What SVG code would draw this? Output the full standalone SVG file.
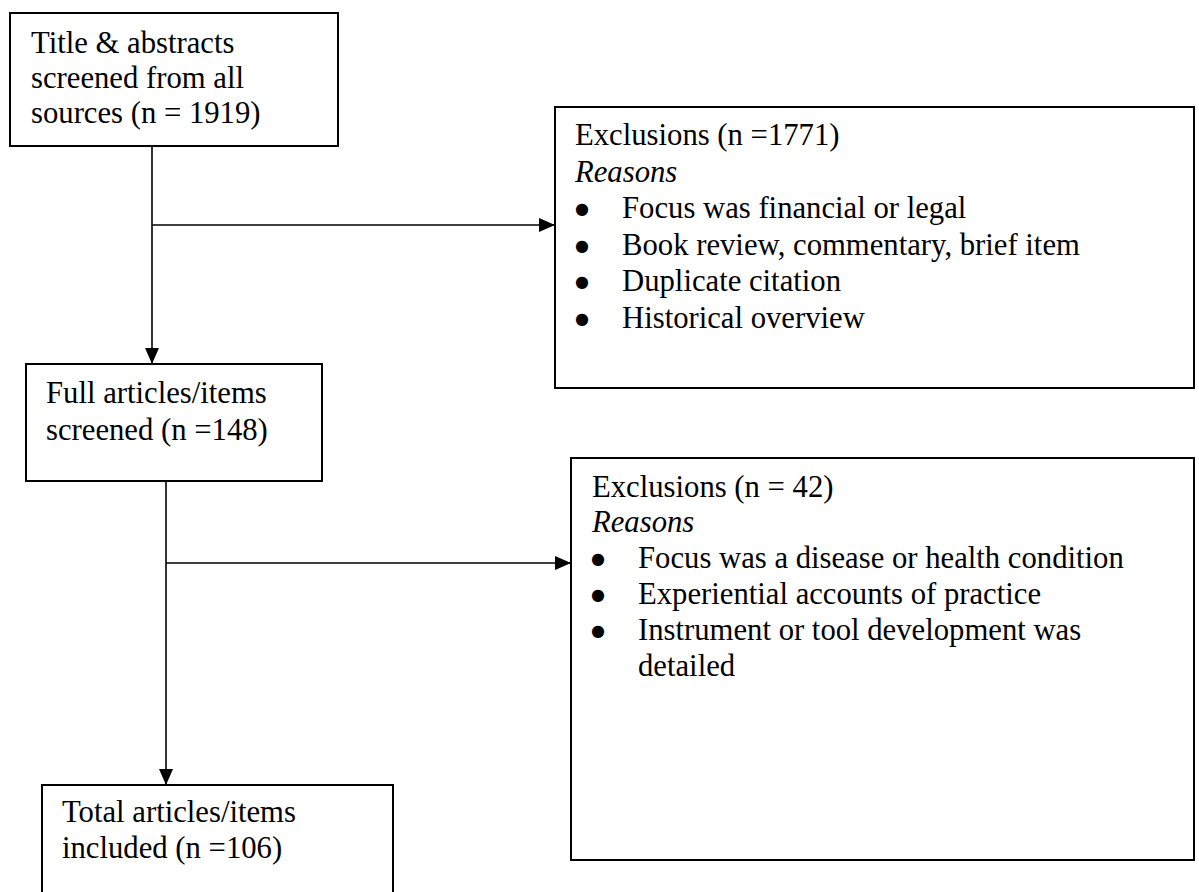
<svg xmlns="http://www.w3.org/2000/svg" width="1199" height="892" viewBox="0 0 1199 892">
<style>
.box{fill:#fff;stroke:#000;stroke-width:2}
.t{font-family:"Liberation Serif","Times New Roman",serif;font-size:30.7px;fill:#000}
.i{font-style:italic}
.b{font-family:"DejaVu Sans","Liberation Sans",sans-serif;font-size:16px;fill:#000;text-anchor:middle}
.c{fill:none;stroke:#000;stroke-width:1.6}
</style>
<defs>
<marker id="arr" markerUnits="userSpaceOnUse" markerWidth="16" markerHeight="14" refX="16" refY="7" orient="auto">
<path d="M0,0 L16,7 L0,14 z" fill="#000"/>
</marker>
</defs>
<rect width="1199" height="892" fill="#fff"/>
<g id="connectors">
<line class="c" x1="152" y1="146" x2="152" y2="364" marker-end="url(#arr)"/>
<line class="c" x1="152" y1="225" x2="555" y2="225" marker-end="url(#arr)"/>
<line class="c" x1="166" y1="481" x2="166" y2="785" marker-end="url(#arr)"/>
<line class="c" x1="166" y1="563" x2="571" y2="563" marker-end="url(#arr)"/>
</g>
<g id="screened">
<rect class="box" x="10" y="13" width="328" height="133"/>
<text class="t" x="31" y="53">Title &amp; abstracts</text>
<text class="t" x="31" y="88">screened from all</text>
<text class="t" x="31" y="123">sources (n = 1919)</text>
</g>
<g id="exclusions1">
<rect class="box" x="555" y="107" width="639" height="281"/>
<text class="t" x="575" y="145">Exclusions (n =1771)</text>
<text class="t i" x="575" y="181.5">Reasons</text>
<text class="b" x="582" y="214">●</text>
<text class="t" x="622" y="218">Focus was financial or legal</text>
<text class="b" x="582" y="250.5">●</text>
<text class="t" x="622" y="254.5">Book review, commentary, brief item</text>
<text class="b" x="582" y="287">●</text>
<text class="t" x="622" y="291">Duplicate citation</text>
<text class="b" x="582" y="323.5">●</text>
<text class="t" x="622" y="327.5">Historical overview</text>
</g>
<g id="fulltext">
<rect class="box" x="26" y="364" width="296" height="117"/>
<text class="t" x="46" y="403">Full articles/items</text>
<text class="t" x="46" y="440">screened (n =148)</text>
</g>
<g id="exclusions2">
<rect class="box" x="571" y="458" width="623" height="402"/>
<text class="t" x="592" y="497">Exclusions (n = 42)</text>
<text class="t i" x="592" y="532">Reasons</text>
<text class="b" x="598" y="564">●</text>
<text class="t" x="638" y="568">Focus was a disease or health condition</text>
<text class="b" x="598" y="600">●</text>
<text class="t" x="638" y="604">Experiential accounts of practice</text>
<text class="b" x="598" y="636">●</text>
<text class="t" x="638" y="640">Instrument or tool development was</text>
<text class="t" x="638" y="676">detailed</text>
</g>
<g id="included">
<rect class="box" x="42" y="785" width="351" height="120"/>
<text class="t" x="62" y="822">Total articles/items</text>
<text class="t" x="62" y="858">included (n =106)</text>
</g>
</svg>
